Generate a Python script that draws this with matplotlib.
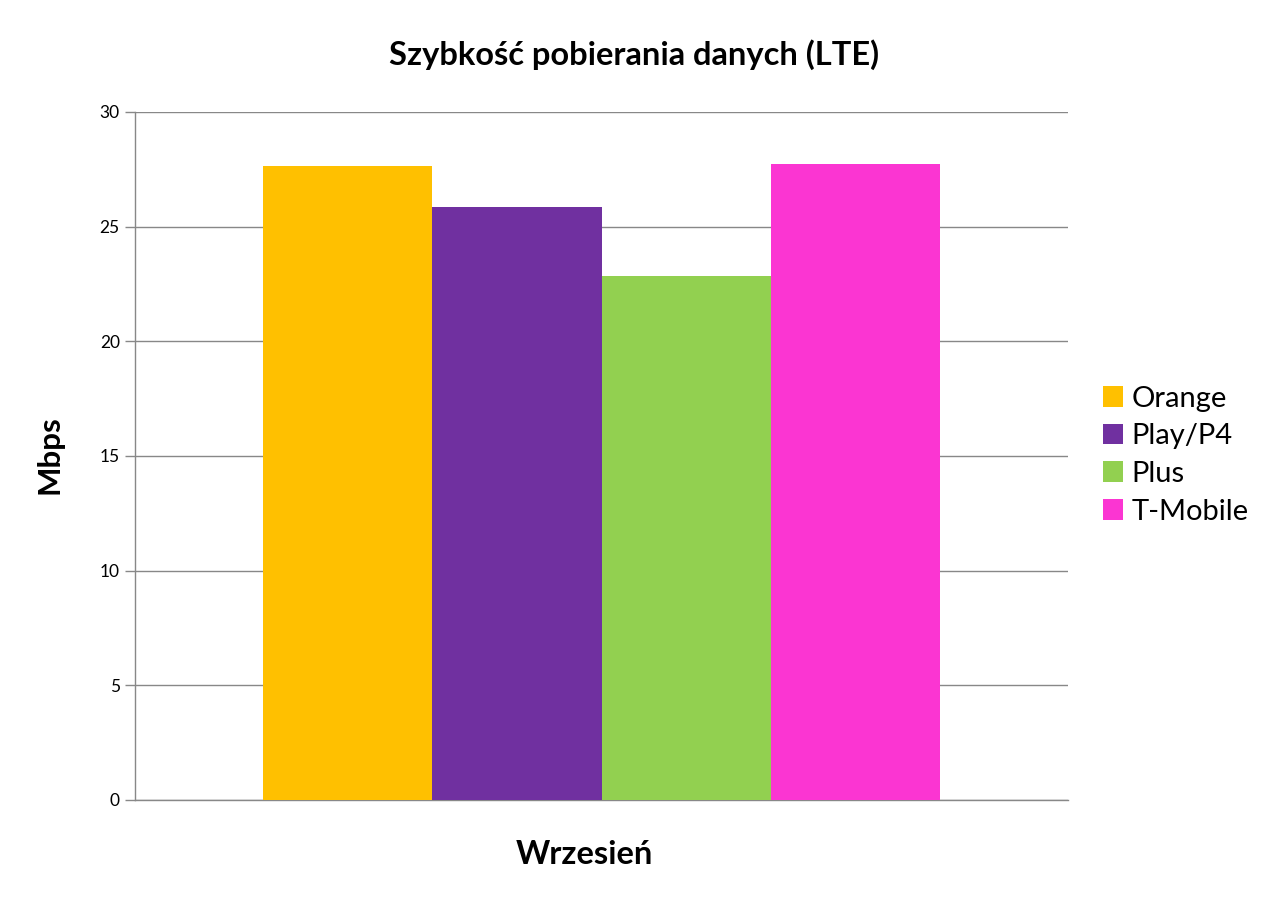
import matplotlib
matplotlib.use("Agg")
import matplotlib.pyplot as plt
import numpy as np

categories = ["Wrzesień"]
operators = ["Orange", "Play/P4", "Plus", "T-Mobile"]
values = [27.65, 25.85, 22.85, 27.75]
colors = ["#FFC000", "#7030A0", "#92D050", "#FB35D2"]
yticks = [0, 5, 10, 15, 20, 25, 30]

plt.rcParams['font.family'] = ['Lato', 'DejaVu Sans']

fig = plt.figure(figsize=(12.69, 9.10), dpi=100)
ax = fig.add_axes([135/1269, 1-800/910, (1068-135)/1269, (800-112)/910])

w = 0.2
n = len(operators)
for i, (op, v, c) in enumerate(zip(operators, values, colors)):
    ax.bar(0 + (i - (n-1)/2)*w, v, width=w, color=c, label=op, zorder=3)

half = (n*w) / (677/933) / 2
ax.set_xlim(-half, half)
ax.set_ylim(0, 30)
ax.set_yticks(yticks)
ax.set_yticklabels([str(t) for t in yticks], fontsize=12.5)
ax.set_xticks([])
ax.yaxis.grid(True, color="#888888", linewidth=1, zorder=0)
for s in ["top", "right"]:
    ax.spines[s].set_visible(False)
for s in ["left", "bottom"]:
    ax.spines[s].set_color("#888888")
    ax.spines[s].set_linewidth(1)
ax.tick_params(axis='y', length=7, color="#888888", width=1, pad=4)

fig.text(634/1269, 1-55/910, "Szybkość pobierania danych (LTE)", fontsize=23.5,
         fontweight='bold', ha='center', va='center')
fig.text(584/1269, 1-855/910, categories[0], fontsize=23.5, fontweight='bold',
         ha='center', va='center')
fig.text(50/1269, 1-455/910, "Mbps", fontsize=22.5, fontweight='bold',
         ha='center', va='center', rotation=90)

leg = fig.legend(loc='center left', bbox_to_anchor=(1103/1269, 1-455/910), frameon=False,
                 fontsize=21, handlelength=0.7, handleheight=0.7, handletextpad=0.28,
                 labelspacing=0.4, borderpad=0, borderaxespad=0)

fig.savefig("out.png", dpi=100)
